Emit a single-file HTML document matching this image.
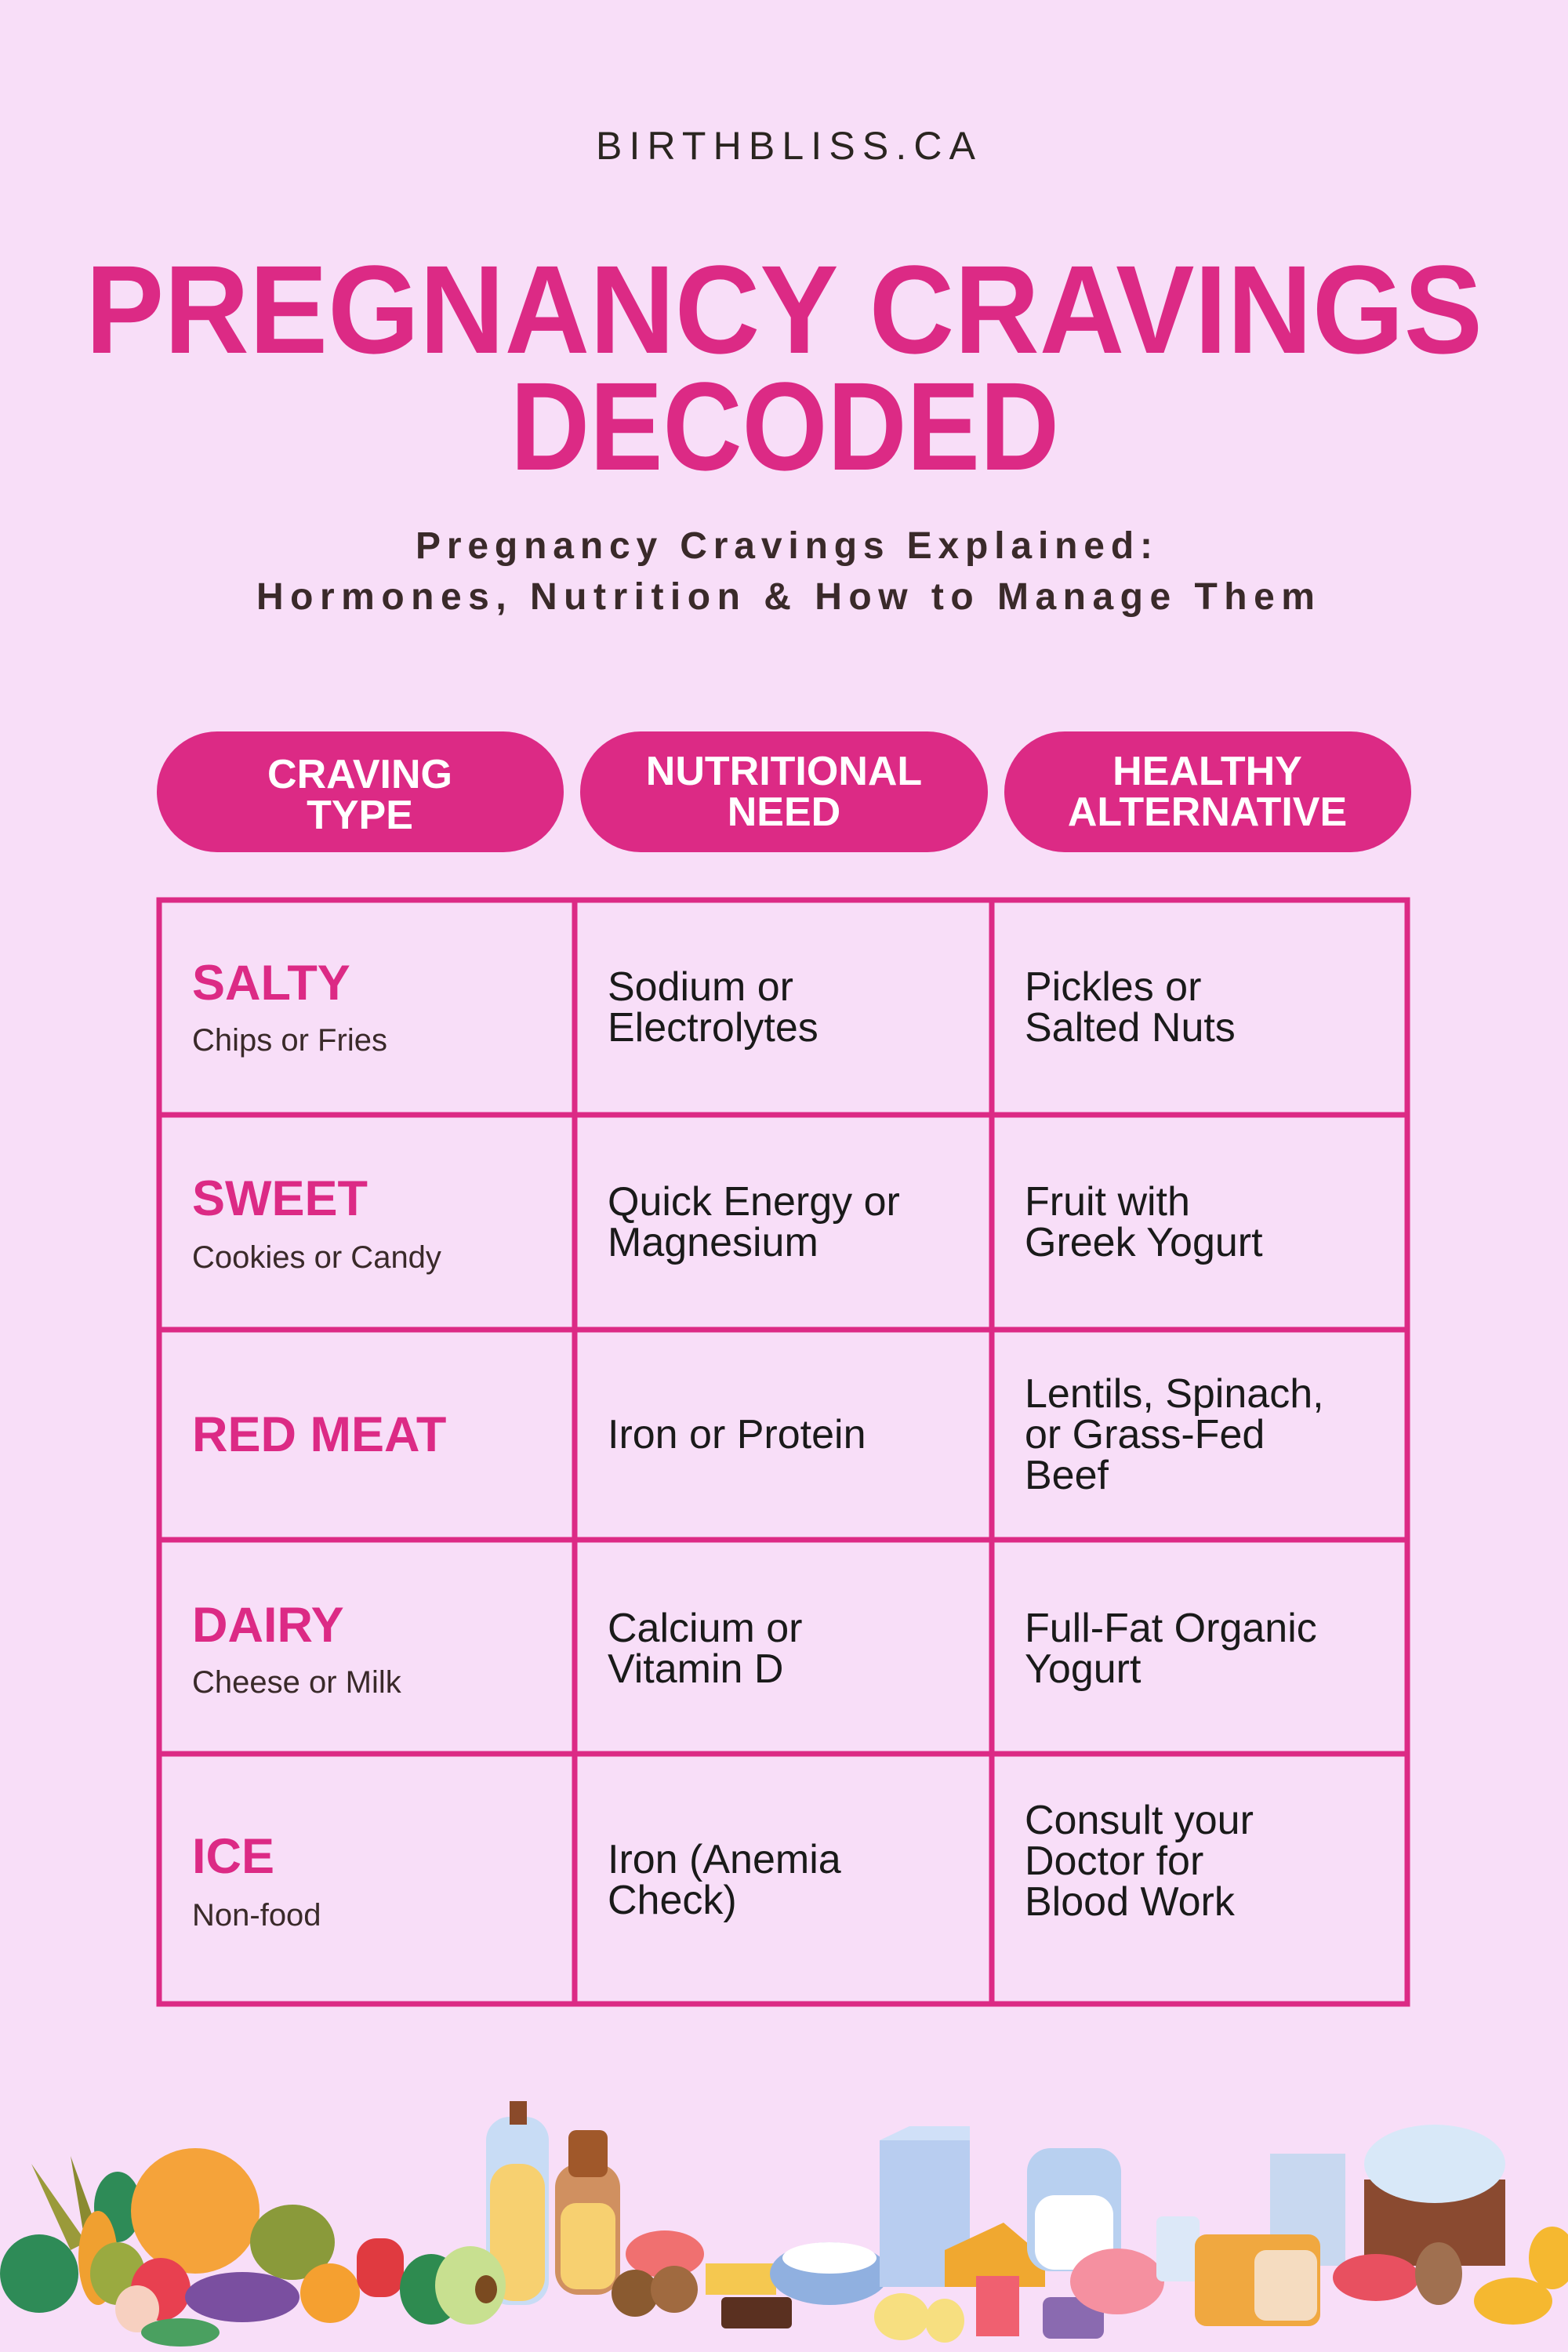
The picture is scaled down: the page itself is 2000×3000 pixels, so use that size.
<!DOCTYPE html>
<html><head><meta charset="utf-8"><style>
html,body{margin:0;padding:0;background:#f8def8;}
svg{display:block;}
.t{font-family:"Liberation Sans",sans-serif;}
</style></head><body>
<svg width="2000" height="3000" viewBox="0 0 2000 3000" xmlns="http://www.w3.org/2000/svg">
<rect width="2000" height="3000" fill="#f8def8"/>
<g class="t">
<text x="760" y="203" font-size="50" fill="#2a2520" textLength="484" lengthAdjust="spacing">BIRTHBLISS.CA</text>
<text x="109" y="450" font-size="160" font-weight="bold" fill="#dc2a85" textLength="1782" lengthAdjust="spacingAndGlyphs">PREGNANCY CRAVINGS</text>
<text x="651" y="599" font-size="160" font-weight="bold" fill="#dc2a85" textLength="700" lengthAdjust="spacingAndGlyphs">DECODED</text>
<text x="530" y="712" font-size="48" font-weight="bold" fill="#3a2a2a" textLength="940" lengthAdjust="spacing">Pregnancy Cravings Explained:</text>
<text x="327" y="777" font-size="48" font-weight="bold" fill="#3a2a2a" textLength="1350" lengthAdjust="spacing">Hormones, Nutrition &amp; How to Manage Them</text>
</g>
<g fill="#dc2a85">
<rect x="200" y="933" width="519" height="154" rx="77"/>
<rect x="740" y="933" width="520" height="154" rx="77"/>
<rect x="1281" y="933" width="519" height="154" rx="77"/>
</g>
<g class="t" fill="#fff" font-size="52" font-weight="bold" text-anchor="middle">
<text x="459" y="1005">CRAVING</text><text x="459" y="1057">TYPE</text>
<text x="1000" y="1001">NUTRITIONAL</text><text x="1000" y="1053">NEED</text>
<text x="1540" y="1001">HEALTHY</text><text x="1540" y="1053">ALTERNATIVE</text>
</g>
<g stroke="#dc2a85" stroke-width="7" fill="none">
<rect x="203" y="1148" width="1592" height="1408"/>
<line x1="733" y1="1148" x2="733" y2="2556"/>
<line x1="1265" y1="1148" x2="1265" y2="2556"/>
<line x1="203" y1="1422" x2="1795" y2="1422"/>
<line x1="203" y1="1696" x2="1795" y2="1696"/>
<line x1="203" y1="1964" x2="1795" y2="1964"/>
<line x1="203" y1="2237" x2="1795" y2="2237"/>
</g>
<g class="t" fill="#dc2a85" font-size="63" font-weight="bold">
<text x="245" y="1275">SALTY</text>
<text x="245" y="1550">SWEET</text>
<text x="245" y="1851">RED MEAT</text>
<text x="245" y="2094">DAIRY</text>
<text x="245" y="2389">ICE</text>
</g>
<g class="t" fill="#3a2a2a" font-size="40">
<text x="245" y="1340">Chips or Fries</text>
<text x="245" y="1617">Cookies or Candy</text>
<text x="245" y="2159">Cheese or Milk</text>
<text x="245" y="2456">Non-food</text>
</g>
<g class="t" fill="#1a1a1a" font-size="52">
<text x="775" y="1276">Sodium or</text><text x="775" y="1328">Electrolytes</text>
<text x="775" y="1550">Quick Energy or</text><text x="775" y="1602">Magnesium</text>
<text x="775" y="1847">Iron or Protein</text>
<text x="775" y="2094">Calcium or</text><text x="775" y="2146">Vitamin D</text>
<text x="775" y="2389">Iron (Anemia</text><text x="775" y="2441">Check)</text>
<text x="1307" y="1276">Pickles or</text><text x="1307" y="1328">Salted Nuts</text>
<text x="1307" y="1550">Fruit with</text><text x="1307" y="1602">Greek Yogurt</text>
<text x="1307" y="1795">Lentils, Spinach,</text><text x="1307" y="1847">or Grass-Fed</text><text x="1307" y="1899">Beef</text>
<text x="1307" y="2094">Full-Fat Organic</text><text x="1307" y="2146">Yogurt</text>
<text x="1307" y="2339">Consult your</text><text x="1307" y="2391">Doctor for</text><text x="1307" y="2443">Blood Work</text>
</g>
<!-- food illustrations -->
<g>
<path d="M40 2760 L110 2860 L90 2870 Z" fill="#9a9a3a"/>
<path d="M90 2750 L130 2860 L110 2870 Z" fill="#8a8a30"/>
<ellipse cx="150" cy="2815" rx="30" ry="45" fill="#2e8b57"/>
<ellipse cx="125" cy="2880" rx="25" ry="60" fill="#f0a030"/>
<ellipse cx="249" cy="2820" rx="82" ry="80" fill="#f5a33a"/>
<ellipse cx="373" cy="2860" rx="54" ry="48" fill="#8a9a3a"/>
<ellipse cx="50" cy="2900" rx="50" ry="50" fill="#2e8b57"/>
<ellipse cx="150" cy="2900" rx="35" ry="40" fill="#9aaa40"/>
<ellipse cx="205" cy="2920" rx="38" ry="40" fill="#e84050"/>
<ellipse cx="175" cy="2945" rx="28" ry="30" fill="#f7d0c0"/>
<ellipse cx="309" cy="2930" rx="73" ry="32" fill="#7a4fa0"/>
<ellipse cx="421" cy="2925" rx="38" ry="38" fill="#f5a030"/>
<rect x="455" y="2855" width="60" height="75" rx="25" fill="#e03a40"/>
<ellipse cx="230" cy="2975" rx="50" ry="18" fill="#4aa060"/>
<rect x="620" y="2700" width="80" height="240" rx="30" fill="#c8dcf5"/>
<rect x="625" y="2760" width="70" height="175" rx="30" fill="#f7d070"/>
<rect x="650" y="2680" width="22" height="30" fill="#8a4a2a"/>
<rect x="708" y="2760" width="83" height="167" rx="30" fill="#d09060"/>
<rect x="715" y="2810" width="70" height="110" rx="20" fill="#f7d070"/>
<rect x="725" y="2717" width="50" height="60" rx="10" fill="#a0582a"/>
<ellipse cx="550" cy="2920" rx="40" ry="45" fill="#2e8b50"/>
<ellipse cx="600" cy="2915" rx="45" ry="50" fill="#c8e090"/>
<ellipse cx="620" cy="2920" rx="14" ry="18" fill="#7a4a20"/>
<ellipse cx="848" cy="2875" rx="50" ry="30" fill="#f07070"/>
<ellipse cx="810" cy="2925" rx="30" ry="30" fill="#8a5a30"/>
<ellipse cx="860" cy="2920" rx="30" ry="30" fill="#a06a40"/>
<rect x="900" y="2887" width="90" height="40" fill="#f5c850"/>
<rect x="920" y="2930" width="90" height="40" rx="6" fill="#5a3020"/>
<ellipse cx="1058" cy="2900" rx="76" ry="40" fill="#90b0e0"/>
<ellipse cx="1058" cy="2880" rx="60" ry="20" fill="#ffffff"/>
<rect x="1122" y="2730" width="115" height="187" fill="#b8cdf0"/>
<path d="M1122 2730 L1160 2712 L1237 2712 L1237 2730 Z" fill="#d0e0f8"/>
<ellipse cx="1150" cy="2955" rx="35" ry="30" fill="#f7df80"/>
<ellipse cx="1205" cy="2960" rx="25" ry="28" fill="#f7df80"/>
<path d="M1205 2870 L1280 2835 L1333 2880 L1333 2917 L1205 2917 Z" fill="#f0a830"/>
<rect x="1310" y="2740" width="120" height="157" rx="30" fill="#b8d0f0"/>
<rect x="1320" y="2800" width="100" height="95" rx="25" fill="#ffffff"/>
<rect x="1245" y="2903" width="55" height="77" fill="#f06070"/>
<rect x="1330" y="2930" width="78" height="53" rx="10" fill="#8a6ab0"/>
<ellipse cx="1425" cy="2910" rx="60" ry="42" fill="#f590a0"/>
<rect x="1475" y="2827" width="55" height="83" rx="8" fill="#dce8f8"/>
<rect x="1620" y="2747" width="96" height="143" fill="#c8d8f0"/>
<rect x="1524" y="2850" width="160" height="117" rx="15" fill="#f0a840"/>
<rect x="1600" y="2870" width="80" height="90" rx="15" fill="#f5dcc0"/>
<path d="M1740 2780 L1920 2780 L1920 2890 L1740 2890 Z" fill="#8a4a30"/>
<ellipse cx="1830" cy="2760" rx="90" ry="50" fill="#d8e8f8"/>
<ellipse cx="1755" cy="2905" rx="55" ry="30" fill="#e85060"/>
<ellipse cx="1835" cy="2900" rx="30" ry="40" fill="#a07050"/>
<ellipse cx="1930" cy="2935" rx="50" ry="30" fill="#f5b830"/>
<ellipse cx="1980" cy="2880" rx="30" ry="40" fill="#f5b830"/>
</g>
</svg>
</body></html>
